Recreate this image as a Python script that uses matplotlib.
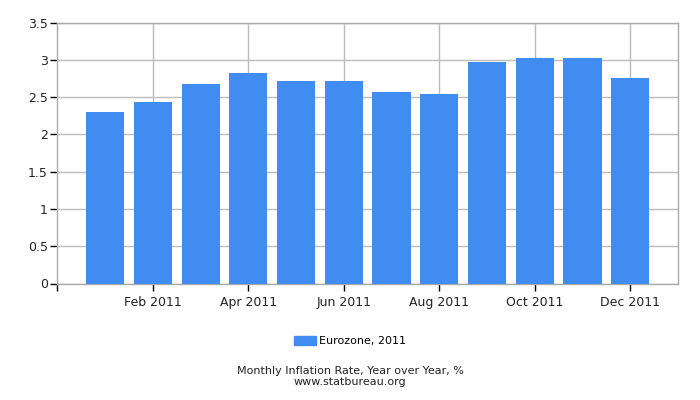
import numpy as np
import matplotlib
matplotlib.use("Agg")
import matplotlib.pyplot as plt
from matplotlib.patches import Patch

# Data
months = ["Jan 2011", "Feb 2011", "Mar 2011", "Apr 2011", "May 2011", "Jun 2011",
          "Jul 2011", "Aug 2011", "Sep 2011", "Oct 2011", "Nov 2011", "Dec 2011"]
inflation = [2.30, 2.43, 2.68, 2.82, 2.72, 2.72, 2.57, 2.54, 2.97, 3.03, 3.02, 2.76]
series_label = "Eurozone, 2011"
yticks = [0, 0.5, 1, 1.5, 2, 2.5, 3, 3.5]
ytick_labels = ["0", "0.5", "1", "1.5", "2", "2.5", "3", "3.5"]

bar_color = "#418cf0"
grid_color = "#bcbcbc"

plt.rcParams["font.family"] = ["DejaVu Sans"]

fig = plt.figure(figsize=(7, 4), dpi=100)
ax = fig.add_axes([0.0821, 0.29125, 0.8864, 0.6525])

x = np.arange(len(months))
ax.bar(x, inflation, width=0.8, color=bar_color, zorder=3)

ax.set_xlim(-1, len(months))
ax.set_ylim(0, 3.5)

# labelled every second month, as in the reference
ax.set_xticks(x[1::2])
ax.set_xticklabels(months[1::2], fontsize=9, color="#222222")
ax.set_xticks([-1], minor=True)
ax.set_yticks(yticks)
ax.set_yticklabels(ytick_labels, fontsize=9, color="#222222")

ax.grid(True, color=grid_color, linewidth=1, zorder=0)
ax.tick_params(axis="both", which="both", length=5, width=1, color="black", pad=2)
ax.tick_params(axis="x", pad=4)
for s in ax.spines.values():
    s.set_color("#aaaaaa")
    s.set_linewidth(1)

fig.legend(handles=[Patch(color=bar_color, label=series_label)],
           loc="center", bbox_to_anchor=(0.5, 1 - 341 / 400), frameon=False,
           fontsize=8, handlelength=2.0, handleheight=0.9, handletextpad=0.3)

fig.text(0.5, 1 - 371 / 400, "Monthly Inflation Rate, Year over Year, %",
         ha="center", va="center", fontsize=8, color="#222222")
fig.text(0.5, 1 - 382 / 400, "www.statbureau.org",
         ha="center", va="center", fontsize=8, color="#222222")

fig.savefig("out.png", dpi=100)
